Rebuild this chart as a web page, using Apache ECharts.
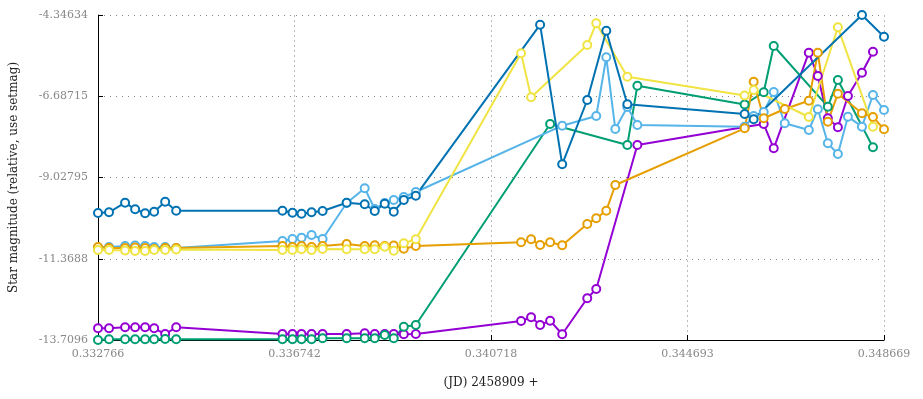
<!DOCTYPE html>
<html>
<head>
<meta charset="utf-8">
<script src="https://cdn.jsdelivr.net/npm/echarts@6/dist/echarts.min.js"></script>
<style>
  html, body { margin: 0; padding: 0; background: #fff; }
  #chart { width: 923px; height: 399px; }
</style>
</head>
<body>
<div id="chart"></div>
<script>
// tick labels as printed on the axes
const xTicks = ["0.332766", "0.336742", "0.340718", "0.344693", "0.348669"];
const yTicks = ["-13.7096", "-11.3688", "-9.02795", "-6.68715", "-4.34634"];

// observation times shared by the first two groups of frames
const tEarly = [0.332766, 0.332989, 0.333314, 0.333517, 0.333719, 0.333902, 0.334125, 0.334348];
const tMid = [0.336498, 0.336701, 0.336884, 0.337087, 0.337310, 0.337797, 0.338162, 0.338365,
  0.338567, 0.338750, 0.338953, 0.339196];

// purple
const purpleT = tEarly.concat(tMid, [0.341326, 0.341529, 0.341711, 0.341914, 0.342158, 0.342665,
  0.342847, 0.343679, 0.345849, 0.346235, 0.346438, 0.347148, 0.347330, 0.347533, 0.347736,
  0.347939, 0.348223, 0.348446]);
const purpleMag = [-13.373, -13.373, -13.344, -13.344, -13.344, -13.373, -13.537, -13.344,
  -13.537, -13.537, -13.537, -13.537, -13.537, -13.537, -13.517, -13.537, -13.537, -13.537, -13.545, -13.537,
  -13.162, -13.056, -13.277, -13.153, -13.545, -12.508, -12.240, -8.092,
  -7.573, -7.487, -8.187, -5.432, -6.104, -7.322, -7.582, -6.680, -6.009, -5.404];

// green
const greenT = tEarly.concat(tMid, [0.341914, 0.343476, 0.343679, 0.345849, 0.346235, 0.346438,
  0.347533, 0.347736, 0.348446]);
const greenMag = [-13.7096, -13.689, -13.689, -13.689, -13.689, -13.689, -13.680, -13.689,
  -13.689, -13.689, -13.689, -13.689, -13.661, -13.661, -13.661, -13.661, -13.566, -13.661, -13.326, -13.277,
  -7.487, -8.092, -6.383, -6.925, -6.570, -5.239, -6.988, -6.219, -8.158];

// light blue
const lightBlueT = tEarly.concat(tMid, [0.342158, 0.342847, 0.343050, 0.343233, 0.343476, 0.343679,
  0.345849, 0.346032, 0.346235, 0.346438, 0.346661, 0.347148, 0.347330, 0.347533, 0.347736,
  0.347939, 0.348223, 0.348446, 0.348669]);
const lightBlueMag = [-11.045, -11.030, -11.001, -10.987, -11.001, -11.030, -11.030, -11.059,
  -10.857, -10.800, -10.762, -10.685, -10.800, -9.763, -9.339, -9.935, -9.763, -9.676, -9.590, -9.446,
  -7.536, -7.256, -5.565, -7.631, -6.997, -7.515,
  -7.564, -7.256, -7.141, -6.565, -7.466, -7.660, -7.063, -8.043, -8.351, -7.276, -7.564, -6.651, -7.083];

// orange
const orangeT = tEarly.concat(tMid, [0.341326, 0.341529, 0.341711, 0.341914, 0.342158, 0.342665,
  0.342847, 0.343050, 0.343233, 0.345849, 0.346032, 0.346235, 0.346661, 0.347148, 0.347330,
  0.347533, 0.347736, 0.348223, 0.348446, 0.348669]);
const orangeMag = [-11.030, -11.059, -11.059, -11.045, -11.059, -11.088, -11.059, -11.059,
  -11.001, -11.030, -11.001, -11.030, -11.001, -10.944, -11.001, -10.981, -11.001, -10.987, -11.079, -11.001,
  -10.895, -10.808, -10.973, -10.895, -10.981, -10.368, -10.203, -9.984, -9.244,
  -7.611, -6.268, -7.322, -7.054, -6.815, -5.432, -7.420, -6.614, -7.178, -7.285, -7.639];

// yellow
const yellowT = tEarly.concat(tMid, [0.341326, 0.341529, 0.342665, 0.342847, 0.343476,
  0.345849, 0.346032, 0.347148, 0.347736, 0.348446]);
const yellowMag = [-11.117, -11.117, -11.131, -11.146, -11.146, -11.117, -11.117, -11.103,
  -11.117, -11.117, -11.097, -11.117, -11.088, -11.097, -11.097, -11.097, -11.021, -11.137, -10.924, -10.806,
  -5.450, -6.717, -5.211, -4.585, -6.124,
  -6.666, -6.507, -7.285, -4.701, -7.564];

// dark blue
const darkBlueT = tEarly.concat(tMid, [0.341711, 0.342158, 0.342665, 0.343050, 0.343476,
  0.345849, 0.346032, 0.348223, 0.348669]);
const darkBlueMag = [-10.051, -10.031, -9.754, -9.944, -10.059, -10.013, -9.725, -9.984,
  -9.984, -10.042, -10.071, -10.030, -9.993, -9.754, -9.800, -9.993, -9.783, -10.013, -9.676, -9.552,
  -4.626, -8.648, -6.795, -4.799, -6.919,
  -7.199, -7.351, -4.34634, -4.972];

const xMin = 0.332766, xMax = 0.348669;
const yMin = -13.7096, yMax = -4.34634;

function pairs(t, m) {
  return t.map(function (v, i) { return [v, m[i]]; });
}

function makeSeries(name, color, t, m) {
  return {
    name: name,
    type: "line",
    data: pairs(t, m),
    symbol: "emptyCircle",
    symbolSize: 8,
    color: color,
    lineStyle: { width: 2, color: color },
    itemStyle: { color: color, borderWidth: 2 },
    animation: false
  };
}

let chart = echarts.init(document.getElementById("chart"));
chart.setOption({
  animation: false,
  grid: { left: 98, right: 39, top: 15, bottom: 59 },
  xAxis: {
    type: "value",
    min: xMin,
    max: xMax,
    interval: (xMax - xMin) / 4,
    name: "(JD) 2458909 +",
    nameLocation: "middle",
    nameGap: 37,
    nameTextStyle: { fontFamily: "DejaVu Serif", fontSize: 12, color: "#222" },
    axisLine: { lineStyle: { color: "#000", width: 1 } },
    axisTick: { inside: true, length: 5, lineStyle: { color: "#000" } },
    axisLabel: {
      fontFamily: "DejaVu Serif", fontSize: 11, color: "#888", margin: 9,
      formatter: function (v, i) { return xTicks[i]; }
    },
    splitLine: { show: true, lineStyle: { color: "#bbb", type: [2, 3] } }
  },
  yAxis: {
    type: "value",
    min: yMin,
    max: yMax,
    interval: (yMax - yMin) / 4,
    name: "Star magnitude (relative, use setmag)",
    nameLocation: "middle",
    nameGap: 78,
    nameTextStyle: { fontFamily: "DejaVu Serif", fontSize: 12, color: "#222" },
    axisLine: { show: true, lineStyle: { color: "#000", width: 1 } },
    axisTick: { show: true, inside: true, length: 5, lineStyle: { color: "#000" } },
    axisLabel: {
      fontFamily: "DejaVu Serif", fontSize: 11, color: "#888", margin: 10,
      formatter: function (v, i) { return yTicks[i]; }
    },
    splitLine: { show: true, lineStyle: { color: "#888", type: [1, 5] } }
  },
  series: [
    makeSeries("purple", "#9400D3", purpleT, purpleMag),
    makeSeries("green", "#009E73", greenT, greenMag),
    makeSeries("light blue", "#56B4E9", lightBlueT, lightBlueMag),
    makeSeries("orange", "#E69F00", orangeT, orangeMag),
    makeSeries("yellow", "#F0E442", yellowT, yellowMag),
    makeSeries("dark blue", "#0072B2", darkBlueT, darkBlueMag)
  ]
});
</script>
</body>
</html>
